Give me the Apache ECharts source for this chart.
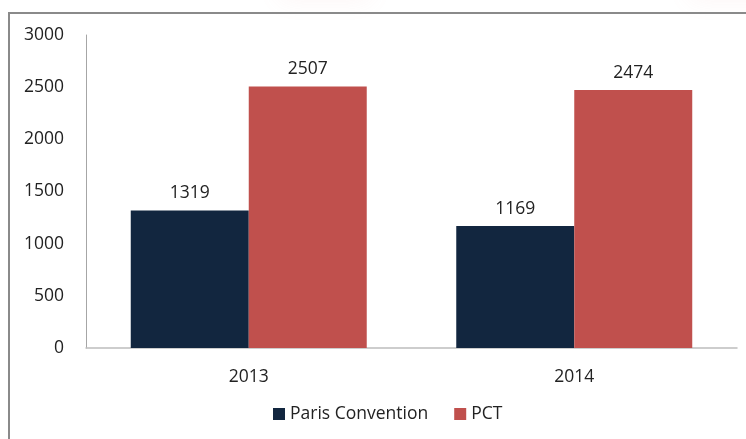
<!DOCTYPE html>
<html>
<head>
<meta charset="utf-8">
<script src="https://cdn.jsdelivr.net/npm/echarts@6/dist/echarts.min.js"></script>
<style>
html,body{margin:0;padding:0;background:#fff;}
#c{width:746px;height:439px;}
</style>
</head>
<body>
<div id="c"></div>
<script>
const categories = ['2013', '2014'];
const parisConvention = [1319, 1169];
const pct = [2507, 2474];
const yTicks = [0, 500, 1000, 1500, 2000, 2500, 3000];

const chart = echarts.init(document.getElementById('c'), null, {renderer: 'canvas'});
const font = '"Open Sans", sans-serif';
const fs = 17.5;
chart.setOption({
  animation: false,
  backgroundColor: '#fff',
  graphic: [
    {type: 'rect', shape: {x: 280, y: -30, width: 90, height: 30}, style: {fill: 'rgba(235,150,150,0.2)', shadowBlur: 25, shadowColor: 'rgba(235,140,140,0.45)'}, silent: true},
    {type: 'rect', shape: {x: 690, y: -30, width: 80, height: 30}, style: {fill: 'rgba(235,150,150,0.2)', shadowBlur: 25, shadowColor: 'rgba(235,140,140,0.45)'}, silent: true},
    {type: 'rect', shape: {x: 9, y: 13, width: 760, height: 460}, style: {fill: 'none', stroke: '#8a8a8a', lineWidth: 2}, silent: true}
  ],
  grid: {left: 86, right: 9, top: 35, bottom: 91, containLabel: false},
  legend: {
    bottom: 11,
    left: 268,
    itemWidth: 12,
    itemHeight: 12,
    itemGap: 26,
    icon: 'rect',
    textStyle: {fontFamily: font, fontSize: fs, color: '#222'},
    data: ['Paris Convention', 'PCT']
  },
  xAxis: {
    type: 'category',
    data: categories,
    axisLine: {lineStyle: {color: '#bdbdbd', width: 1.5}},
    axisTick: {show: false},
    axisLabel: {fontFamily: font, fontSize: fs, color: '#222', margin: 20}
  },
  yAxis: {
    type: 'value',
    min: yTicks[0],
    max: yTicks[yTicks.length - 1],
    interval: 500,
    axisLine: {show: true, lineStyle: {color: '#a6a6a6', width: 1}},
    axisTick: {show: false},
    splitLine: {show: false},
    axisLabel: {fontFamily: font, fontSize: fs, color: '#222', margin: 22, formatter: v => String(v)}
  },
  series: [
    {
      name: 'Paris Convention',
      type: 'bar',
      data: parisConvention,
      barGap: '0%',
      barCategoryGap: '27.5%',
      itemStyle: {color: '#12263f'},
      label: {show: true, position: 'top', distance: 8, fontFamily: font, fontSize: fs, color: '#222'}
    },
    {
      name: 'PCT',
      type: 'bar',
      data: pct,
      barGap: '0%',
      barCategoryGap: '27.5%',
      itemStyle: {color: '#c0504d'},
      label: {show: true, position: 'top', distance: 8, fontFamily: font, fontSize: fs, color: '#222'}
    }
  ]
});
</script>
</body>
</html>
